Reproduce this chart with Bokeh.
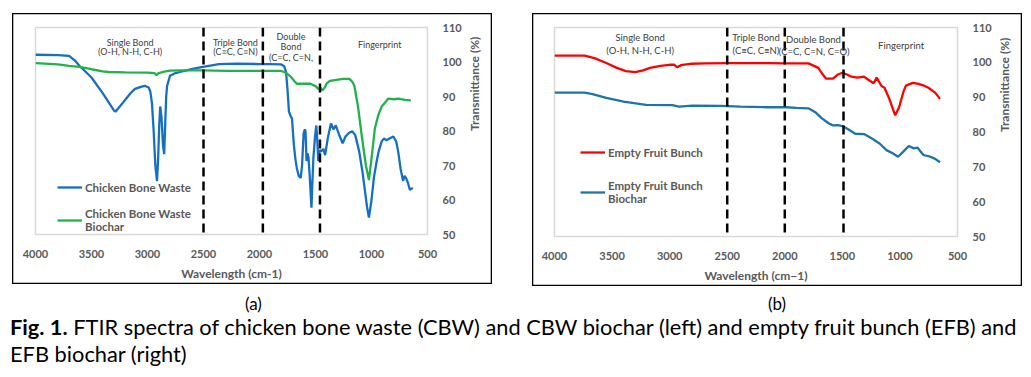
import math
from bokeh.plotting import figure
from bokeh.models import Span, Label, Legend, LegendItem, Div, FixedTicker
from bokeh.layouts import row, column
from bokeh.embed import file_html
from bokeh.resources import INLINE

# ---------------- data ----------------
x_ticks = [4000, 3500, 3000, 2500, 2000, 1500, 1000, 500]
y_ticks = [50, 60, 70, 80, 90, 100, 110]

# (a) Chicken bone waste
cbw_wn = [4000, 3800, 3700, 3650, 3608, 3500, 3400, 3300, 3286, 3250, 3200, 3150, 3112, 3060, 3025,
          2990, 2975, 2960, 2945, 2930, 2915, 2905, 2895, 2886, 2875, 2862, 2851, 2842, 2833, 2825,
          2799, 2750, 2712, 2650, 2600, 2503, 2400, 2363, 2200, 2000, 1900, 1806, 1780, 1763, 1750,
          1737, 1720, 1710, 1700, 1693, 1680, 1667, 1650, 1632, 1620, 1606, 1595, 1589, 1580, 1570,
          1562, 1550, 1536, 1528, 1519, 1505, 1493, 1485, 1475, 1462, 1449, 1430, 1414, 1390, 1362,
          1340, 1319, 1290, 1258, 1232, 1200, 1171, 1145, 1110, 1080, 1058, 1040, 1023, 1000, 979,
          955, 936, 909, 890, 866, 840, 805, 780, 762, 740, 718, 705, 692, 675, 657, 640, 631]
cbw_t = [102.1, 102.0, 101.8, 100.5, 98.9, 95.5, 91.0, 86.0, 85.6, 87.0, 89.0, 91.0, 92.2, 92.8, 93.1,
         92.6, 91.5, 88.0, 80.0, 70.0, 65.5, 72.0, 82.0, 87.1, 84.0, 76.0, 73.3, 82.0, 90.0, 93.1,
         96.0, 96.8, 97.1, 97.6, 98.0, 98.6, 99.2, 99.4, 99.5, 99.4, 99.4, 99.3, 98.8, 97.1, 92.0,
         85.6, 84.2, 83.6, 79.0, 75.9, 72.0, 69.3, 67.0, 66.4, 70.0, 79.3, 80.5, 79.9, 71.3, 73.5,
         72.1, 66.0, 57.8, 65.0, 72.1, 78.0, 81.6, 78.0, 71.3, 74.5, 74.1, 74.8, 73.0, 78.0, 82.2,
         80.5, 81.6, 79.0, 76.4, 78.4, 79.5, 79.9, 78.8, 74.1, 68.0, 62.6, 58.0, 54.9, 60.0, 66.4,
         71.0, 74.1, 77.0, 77.8, 77.3, 77.8, 78.4, 77.0, 74.1, 69.0, 65.5, 67.0, 66.4, 65.0, 62.9, 63.4, 63.2]

# (a) Chicken bone waste biochar
cbwb_wn = [4000, 3800, 3700, 3608, 3500, 3400, 3347, 3200, 3000, 2938, 2920, 2900, 2850, 2799, 2700,
           2503, 2300, 2000, 1806, 1760, 1719, 1690, 1667, 1600, 1545, 1500, 1475, 1455, 1440, 1420,
           1400, 1371, 1300, 1250, 1197, 1170, 1153, 1120, 1084, 1050, 1023, 1000, 970, 940, 909,
           880, 849, 800, 762, 700, 649]
cbwb_t = [99.7, 99.3, 98.9, 98.6, 97.9, 97.3, 97.1, 97.0, 96.9, 96.8, 96.2, 96.8, 97.2, 97.5, 97.6,
          97.6, 97.4, 97.4, 97.4, 96.8, 95.7, 94.5, 93.7, 93.7, 93.7, 93.0, 92.2, 92.5, 91.7, 92.5,
          93.8, 94.5, 94.9, 95.1, 95.1, 94.2, 93.1, 87.0, 77.9, 70.0, 65.8, 72.0, 80.7, 84.5, 87.1,
          88.2, 89.4, 89.2, 89.4, 89.0, 88.9]

# (b) Empty fruit bunch
efb_wn = [4000, 3738, 3653, 3550, 3459, 3380, 3298, 3230, 3171, 3080, 3002, 2960, 2935, 2900, 2808,
          2700, 2495, 2300, 2132, 2000, 1900, 1794, 1709, 1670, 1641, 1582, 1540, 1498, 1460, 1430,
          1371, 1312, 1287, 1228, 1202, 1160, 1134, 1092, 1060, 1041, 1007, 970, 948, 889, 838,
          790, 753, 694, 652]
efb_t = [101.9, 101.9, 101.2, 99.8, 98.4, 97.5, 97.2, 97.7, 98.4, 99.0, 99.3, 99.3, 98.6, 99.2, 99.6,
         99.7, 99.8, 99.8, 99.8, 99.7, 99.7, 99.7, 98.4, 96.5, 95.3, 95.3, 96.5, 97.0, 96.5, 96.0,
         95.6, 95.9, 95.3, 94.0, 95.6, 93.2, 92.7, 89.5, 86.5, 84.8, 87.1, 91.5, 93.3, 94.1, 93.8,
         93.3, 92.7, 91.3, 89.5]

# (b) Empty fruit bunch biochar
efbb_wn = [4000, 3738, 3670, 3550, 3400, 3205, 2977, 2918, 2800, 2554, 2385, 2157, 1988, 1900, 1794,
           1735, 1680, 1620, 1582, 1540, 1498, 1450, 1388, 1312, 1250, 1177, 1117, 1060, 1016, 973,
           923, 880, 847, 796, 737, 694, 652]
efbb_t = [91.3, 91.3, 90.9, 89.8, 88.7, 87.8, 87.7, 87.3, 87.6, 87.5, 87.3, 87.1, 87.1, 86.9, 86.8,
          85.7, 84.0, 82.5, 81.9, 82.0, 81.7, 80.8, 79.5, 79.4, 78.3, 76.7, 74.8, 73.8, 72.9, 74.3,
          76.0, 75.3, 75.5, 73.4, 72.9, 72.3, 71.3]

# region boundaries (dashed lines)
bounds_a = [2500, 1970, 1460]
bounds_b = [2500, 2000, 1490]

# region annotations: (text, wavenumber, transmittance)
regions_a = [("Single Bond", 3155, 105.7), ("(O-H, N-H, C-H)", 3155, 102.9),
             ("Triple Bond", 2215, 105.7), ("(C≡C, C≡N)", 2215, 102.9),
             ("Double", 1719, 107.5), ("Bond", 1719, 104.6), ("(C=C, C=N,", 1719, 101.4),
             ("Fingerprint", 927, 105.2)]
regions_b = [("Single Bond", 3256, 107.2), ("(O-H, N-H, C-H)", 3256, 103.5),
             ("Triple Bond", 2250, 107.2), ("(C≡C, C≡N)", 2250, 103.5),
             ("Double Bond", 1751, 106.6), ("(C=C, C=N, C=O)", 1745, 103.2),
             ("Fingerprint", 990, 104.9)]

FONT = "Lato"
GRAY = "#595959"
TXT = "#404040"


def make_panel(width, height, mb, xlabel, series, bounds, regions, region_size,
               legend_loc, legend_spacing):
    p = figure(width=width, height=height, x_range=(4000, 500), y_range=(50, 110),
               y_axis_location="right", output_backend="svg", toolbar_location=None,
               min_border_left=mb[0], min_border_right=mb[1], min_border_top=mb[2],
               min_border_bottom=mb[3])
    p.border_fill_alpha = 0
    p.background_fill_color = "white"
    p.outline_line_color = "#d9d9d9"
    p.outline_line_width = 1.5
    p.grid.visible = False
    p.styles = {"box-shadow": "inset 0 0 0 1.3px black"}

    p.xaxis.ticker = FixedTicker(ticks=x_ticks)
    p.yaxis.ticker = FixedTicker(ticks=y_ticks)
    for ax in (p.xaxis[0], p.yaxis[0]):
        ax.axis_line_color = None
        ax.major_tick_line_color = None
        ax.minor_tick_line_color = None
        ax.major_label_text_font = FONT
        ax.major_label_text_font_style = "bold"
        ax.major_label_text_font_size = "11px"
        ax.major_label_text_color = GRAY
        ax.axis_label_text_font = FONT
        ax.axis_label_text_font_style = "bold"
        ax.axis_label_text_font_size = "12px"
        ax.axis_label_text_color = GRAY
    p.xaxis.axis_label = xlabel
    p.yaxis.axis_label = "Transmittance (%)"
    yax = p.yaxis[0]
    try:
        yax.axis_label_orientation = math.pi / 2
    except Exception:
        pass
    p.xaxis.major_label_standoff = 9
    p.xaxis.axis_label_standoff = 5
    p.yaxis.major_label_standoff = 9
    p.yaxis.axis_label_standoff = 10

    items = []
    for name, wn, t, color in series:
        r = p.line(wn, t, line_color=color, line_width=2.3)
        items.append(LegendItem(label=name, renderers=[r]))

    for b in bounds:
        p.add_layout(Span(location=b, dimension="height", line_color="black",
                          line_width=2.5, line_dash="9 5"))

    for text, x, y in regions:
        p.add_layout(Label(x=x, y=y, text=text, text_align="center", text_baseline="middle",
                           text_font=FONT, text_font_size=region_size, text_color=TXT))

    legend = Legend(items=items, location=legend_loc, border_line_color=None,
                    background_fill_alpha=0, padding=0, margin=0, spacing=legend_spacing,
                    glyph_width=25, glyph_height=14, label_standoff=3, label_height=14,
                    label_text_font=FONT, label_text_font_style="bold",
                    label_text_font_size="11.5px", label_text_color=GRAY)
    p.add_layout(legend)
    return p


pa = make_panel(480, 271, (23, 55, 14, 47), "Wavelength (cm-1)",
                [("Chicken Bone Waste", cbw_wn, cbw_t, "#1570C4"),
                 ("Chicken Bone Waste\nBiochar", cbwb_wn, cbwb_t, "#22B24C")],
                bounds_a, regions_a, "9px", (22, 1), 13)
pb = make_panel(490, 273, (22, 54, 11, 50), "Wavelength (cm\u22121)",
                [("Empty Fruit Bunch", efb_wn, efb_t, "#FF0000"),
                 ("Empty Fruit Bunch\nBiochar", efbb_wn, efbb_t, "#1C75A8")],
                bounds_b, regions_b, "9.5px", (26, 31), 20)

caption = Div(width=1031, height=91, margin=0, text=(
    '<div style="position:relative;width:1031px;height:91px;font-family:Lato;color:#000;">'
    '<div style="position:absolute;left:245px;top:8px;font-size:17px;line-height:19px;">(a)</div>'
    '<div style="position:absolute;left:768px;top:8px;font-size:17px;line-height:19px;">(b)</div>'
    '<div style="position:absolute;left:10px;top:27px;font-size:21.8px;line-height:27px;white-space:nowrap;">'
    '<b>Fig. 1.</b> FTIR spectra of chicken bone waste (CBW) and CBW biochar (left) and empty fruit bunch (EFB) and'
    '<br>EFB biochar (right)</div></div>'))

top = row(pa, pb, spacing=40, margin=(13, 0, 0, 12))
layout = column(top, caption, margin=0, spacing=0)

open("out.html", "w").write(file_html(layout, INLINE))
